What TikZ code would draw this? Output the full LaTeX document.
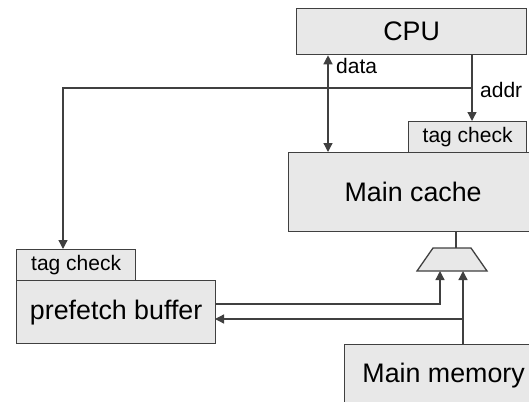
\documentclass[tikz,border=0pt]{standalone}
\usepackage{fontspec}
\setmainfont{Liberation Sans}
\usetikzlibrary{arrows.meta}
\definecolor{boxfill}{RGB}{232,232,232}
\definecolor{linecol}{RGB}{64,64,64}
\begin{document}
\begin{tikzpicture}[x=1pt,y=-1pt,
  box/.style={draw=linecol,fill=boxfill,line width=1.3pt,inner sep=0pt,anchor=north west,font=\fontsize{26.8}{30}\selectfont},
  tagbox/.style={box,font=\fontsize{21}{24}\selectfont},
  conn/.style={draw=linecol,line width=1.3pt},
  arr/.style={conn,-{Triangle[length=9pt,width=9pt]}},
  lbl/.style={inner sep=0pt,anchor=west,font=\fontsize{21}{24}\selectfont}]
\useasboundingbox (0,0) rectangle (529,401);
\clip (0,0) rectangle (529,401);
% boxes
\node[box,minimum width=230pt,minimum height=46pt] (cpu) at (296,8) {CPU};
\node[box,minimum width=249pt,minimum height=79pt] (cache) at (288,152) {Main cache};
\node[tagbox,minimum width=118pt,minimum height=31pt] (tagR) at (408,121) {tag check};
\node[tagbox,minimum width=119pt,minimum height=31pt] (tagL) at (16,249) {tag check};
\node[box,minimum width=199pt,minimum height=63pt] (pref) at (16,280) {prefetch buffer};
\node[box,minimum width=198pt,minimum height=62pt] (mem) at (344,344) {Main memory};
% multiplexer
\draw[conn,fill=boxfill] (417,271) -- (433,248) -- (471,248) -- (487,271) -- cycle;
\coordinate (muxT) at (456,248);
\coordinate (muxA) at (440,271);
\coordinate (muxB) at (463,271);
% helper coordinates
\coordinate (dataX) at (328,0);
\coordinate (addrX) at (472,0);
\coordinate (split) at (472,88);
\coordinate (leftX) at (63,88);
\coordinate (prefOut) at (215,304);
\coordinate (prefIn) at (215,319);
\coordinate (memSplit) at (463,319);
% connectors
\draw[conn,{Triangle[length=9pt,width=9pt]}-{Triangle[length=9pt,width=9pt]}] (cpu.south -| dataX) -- (cache.north -| dataX);
\node[lbl] (datalbl) at (336,66) {data};
\draw[arr] (cpu.south -| addrX) -- (tagR.north -| addrX);
\node[lbl] (addrlbl) at (480,90) {addr};
\draw[arr] (split) -- (leftX) -- (tagL.north -| leftX);
\draw[conn] (cache.south -| muxT) -- (muxT);
\draw[arr] (prefOut) -| (muxA);
\draw[arr] (mem.north -| muxB) -- (muxB);
\draw[arr] (memSplit) -- (prefIn);
\end{tikzpicture}
\end{document}
